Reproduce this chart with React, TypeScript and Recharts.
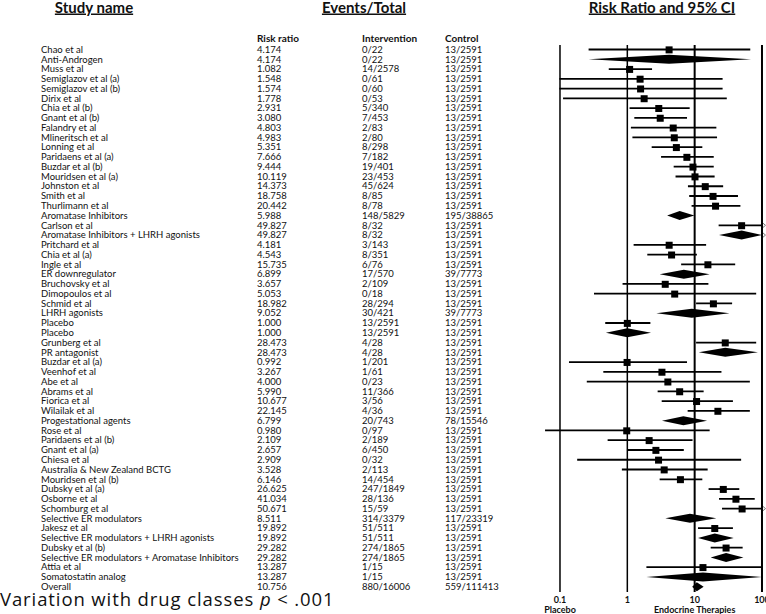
import React from "react";
import { Bar, ComposedChart, ReferenceLine, Scatter, XAxis, YAxis } from "recharts";

const studyNames = [
  "Chao et al", "Anti-Androgen", "Muss et al", "Semiglazov et al (a)", "Semiglazov et al (b)",
  "Dirix et al", "Chia et al (b)", "Gnant et al (b)", "Falandry et al", "Mlineritsch et al",
  "Lonning et al", "Paridaens et al (a)", "Buzdar et al (b)", "Mouridsen et al (a)", "Johnston et al",
  "Smith et al", "Thurlimann et al", "Aromatase Inhibitors", "Carlson et al",
  "Aromatase Inhibitors + LHRH agonists", "Pritchard et al", "Chia et al (a)", "Ingle et al",
  "ER downregulator", "Bruchovsky et al", "Dimopoulos et al", "Schmid et al", "LHRH agonists",
  "Placebo", "Placebo", "Grunberg et al", "PR antagonist", "Buzdar et al (a)", "Veenhof et al",
  "Abe et al", "Abrams et al", "Fiorica et al", "Wilailak et al", "Progestational agents",
  "Rose et al", "Paridaens et al (b)", "Gnant et al (a)", "Chiesa et al",
  "Australia & New Zealand BCTG", "Mouridsen et al (b)", "Dubsky et al (a)", "Osborne et al",
  "Schomburg et al", "Selective ER modulators", "Jakesz et al",
  "Selective ER modulators + LHRH agonists", "Dubsky et al (b)",
  "Selective ER modulators + Aromatase Inhibitors", "Attia et al", "Somatostatin analog", "Overall",
];

const riskRatios = [
  4.174, 4.174, 1.082, 1.548, 1.574, 1.778, 2.931, 3.08, 4.803, 4.983,
  5.351, 7.666, 9.444, 10.119, 14.373, 18.758, 20.442, 5.988, 49.827, 49.827,
  4.181, 4.543, 15.735, 6.899, 3.657, 5.053, 18.982, 9.052, 1.0, 1.0,
  28.473, 28.473, 0.992, 3.267, 4.0, 5.99, 10.677, 22.145, 6.799, 0.98,
  2.109, 2.657, 2.909, 3.528, 6.146, 26.625, 41.034, 50.671, 8.511, 19.892,
  19.892, 29.282, 29.282, 13.287, 13.287, 10.756,
];

const interventionEvents = [
  "0/22", "0/22", "14/2578", "0/61", "0/60", "0/53", "5/340", "7/453", "2/83", "2/80",
  "8/298", "7/182", "19/401", "23/453", "45/624", "8/85", "8/78", "148/5829", "8/32", "8/32",
  "3/143", "8/351", "6/76", "17/570", "2/109", "0/18", "28/294", "30/421", "13/2591", "13/2591",
  "4/28", "4/28", "1/201", "1/61", "0/23", "11/366", "3/56", "4/36", "20/743", "0/97",
  "2/189", "6/450", "0/32", "2/113", "14/454", "247/1849", "28/136", "15/59", "314/3379", "51/511",
  "51/511", "274/1865", "274/1865", "1/15", "1/15", "880/16006",
];

const controlEvents = [
  "13/2591", "13/2591", "13/2591", "13/2591", "13/2591", "13/2591", "13/2591", "13/2591", "13/2591", "13/2591",
  "13/2591", "13/2591", "13/2591", "13/2591", "13/2591", "13/2591", "13/2591", "195/38865", "13/2591", "13/2591",
  "13/2591", "13/2591", "13/2591", "39/7773", "13/2591", "13/2591", "13/2591", "39/7773", "13/2591", "13/2591",
  "13/2591", "13/2591", "13/2591", "13/2591", "13/2591", "13/2591", "13/2591", "13/2591", "78/15546", "13/2591",
  "13/2591", "13/2591", "13/2591", "13/2591", "13/2591", "13/2591", "13/2591", "13/2591", "117/23319", "13/2591",
  "13/2591", "13/2591", "13/2591", "13/2591", "13/2591", "559/111413",
];

const lowerCI = [
  0.266, 0.266, 0.53, 0.098, 0.098, 0.111, 1.08, 1.27, 1.13, 1.19,
  2.3, 3.17, 4.88, 5.2, 7.95, 8.3, 9.0, 3.9, 22.7, 23.0,
  1.24, 1.98, 6.3, 3.02, 0.85, 0.32, 10.5, 2.7, 0.47, 0.48,
  10.5, 11.5, 0.136, 0.44, 0.25, 2.82, 3.24, 7.87, 3.27, 0.06,
  0.51, 1.02, 0.18, 0.83, 3.02, 16.1, 23.0, 25.5, 3.67, 11.2,
  11.2, 17.3, 17.3, 1.92, 1.92, 9.2,
];

const upperCI = [
  67, 69, 2.33, 26, 26, 30, 8.43, 7.7, 21, 21.5,
  13, 19.2, 19.2, 19.8, 26.5, 44, 47.8, 9.9, 110, 110,
  14.8, 10.8, 40, 16.7, 16, 82, 36, 33, 2.2, 2.25,
  82, 87, 7.7, 25, 66, 13.6, 37, 66, 15.3, 16.7,
  9.3, 6.9, 49, 15.6, 13, 46, 78, 110, 21, 37,
  38, 51.6, 53, 100, 100, 13.6,
];

// 1-based row numbers of pooled estimates (drawn as diamonds)
const summaryRows = [2, 18, 20, 24, 28, 30, 32, 39, 49, 51, 53, 55, 56];

const axisTicks = [0.1, 1, 10, 100];
const axisNotes: Record<string, string> = { "0.1": "Placebo", "10": "Endocrine Therapies" };

const rows = studyNames.map((name, i) => ({
  idx: i + 1,
  name,
  rr: riskRatios[i],
  ev: interventionEvents[i],
  ctl: controlEvents[i],
  lo: lowerCI[i],
  hi: upperCI[i],
  summary: summaryRows.includes(i + 1),
  range: [lowerCI[i], Math.min(upperCI[i], 100)],
}));
const studyPoints = rows.filter((r) => !r.summary);

const FONT = "Lato, 'Liberation Sans', sans-serif";
const INK = "#111";

function RowTick(props: any) {
  const { y, payload } = props;
  const r = rows.find((d) => d.idx === payload.value);
  if (!r) return null;
  return (
    <g fontFamily={FONT} fontSize={9.5} fill={INK}>
      <text x={41} y={y} dy="0.3em">{r.name}</text>
      <text x={257} y={y} dy="0.3em">{r.rr.toFixed(3)}</text>
      <text x={362} y={y} dy="0.3em">{r.ev}</text>
      <text x={445} y={y} dy="0.3em">{r.ctl}</text>
    </g>
  );
}

function AxisTick(props: any) {
  const { x, y, payload } = props;
  const label = String(payload.value);
  return (
    <g fontFamily={FONT} fontSize={9} fontWeight={700} fill={INK} textAnchor="middle">
      <text x={x} y={y + 9}>{label}</text>
      {axisNotes[label] && <text x={x} y={y + 19}>{axisNotes[label]}</text>}
    </g>
  );
}

function CiShape(props: any) {
  const { x, y, width, height, payload } = props;
  const left = Math.min(x, x + width);
  const right = Math.max(x, x + width);
  const cy = y + height / 2;
  const arrow = payload.hi > 100 ? (
    <path
      d={`M${right},${cy - 3} L${right + 3.5},${cy} L${right},${cy + 3}`}
      fill="none"
      stroke="#555"
      strokeWidth={0.8}
    />
  ) : null;
  if (payload.summary) {
    const top = Math.log(payload.range[1]);
    const t = (Math.log(payload.rr) - Math.log(payload.lo)) / (top - Math.log(payload.lo));
    const px = left + (right - left) * t;
    return (
      <g>
        <polygon
          points={`${left},${cy} ${px},${y} ${right},${cy} ${px},${y + height}`}
          fill="#000"
        />
        {arrow}
      </g>
    );
  }
  return (
    <g>
      <line x1={left} x2={right} y1={cy} y2={cy} stroke="#000" strokeWidth={1.8} />
      {arrow}
    </g>
  );
}

function Square(props: any) {
  const { cx, cy } = props;
  return <rect x={cx - 3.5} y={cy - 3.5} width={7} height={7} fill="#000" />;
}

export default function App() {
  return (
    <div style={{ position: "absolute", left: 0, top: 0, width: 766, height: 614, background: "#fff" }}>
      <ComposedChart
        width={766}
        height={614}
        data={rows}
        layout="vertical"
        margin={{ top: 45, right: 0, bottom: 0, left: 0 }}
      >
        <XAxis
          type="number"
          scale="log"
          domain={[0.0599, 114.7]}
          allowDataOverflow
          ticks={axisTicks}
          interval={0}
          tickLine={false}
          axisLine={false}
          tickSize={0}
          height={22}
          tick={<AxisTick />}
        />
        <YAxis
          type="category"
          dataKey="idx"
          width={545}
          interval={0}
          allowDuplicatedCategory={false}
          tickLine={false}
          axisLine={false}
          tick={<RowTick />}
        />
        {axisTicks.map((v) => (
          <ReferenceLine key={v} x={v} stroke="#000" strokeWidth={v >= 10 ? 2 : 1.5} />
        ))}
        <Bar dataKey="range" barSize={9} shape={<CiShape />} isAnimationActive={false} />
        <Scatter data={studyPoints} dataKey="rr" shape={<Square />} isAnimationActive={false} />
      </ComposedChart>
      <svg
        width={766}
        height={614}
        style={{ position: "absolute", left: 0, top: 0, pointerEvents: "none" }}
        fontFamily={FONT}
        fill={INK}
      >
        <g fontSize={15} fontWeight={700} textAnchor="middle" style={{ textDecoration: "underline" }}>
          <text x={94} y={12.5}>Study name</text>
          <text x={364} y={12.5}>Events/Total</text>
          <text x={662} y={12.5}>Risk Ratio and 95% CI</text>
        </g>
        <g fontSize={10} fontWeight={700}>
          <text x={257} y={42}>Risk ratio</text>
          <text x={362} y={42}>Intervention</text>
          <text x={445} y={42}>Control</text>
        </g>
        <text x={0} y={606} fontSize={18.5} letterSpacing={0.9} fontFamily="'Open Sans', sans-serif">
          Variation with drug classes{"  "}
          <tspan fontStyle="italic">p</tspan> &lt; .001
        </text>
      </svg>
    </div>
  );
}
